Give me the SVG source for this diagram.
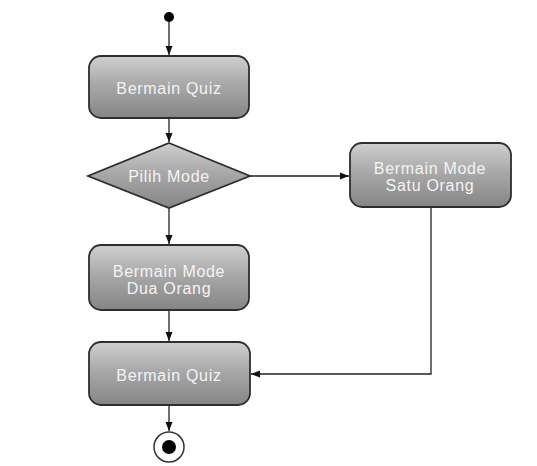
<svg xmlns="http://www.w3.org/2000/svg" width="537" height="466" viewBox="0 0 537 466">
<defs>
<linearGradient id="g" x1="0" y1="0" x2="0" y2="1">
<stop offset="0" stop-color="#cfcfcf"/>
<stop offset="0.45" stop-color="#a9a9a9"/>
<stop offset="1" stop-color="#858585"/>
</linearGradient>
<marker id="arr" markerWidth="10" markerHeight="10" refX="9" refY="5" orient="auto" markerUnits="userSpaceOnUse">
<path d="M0,1.5 L9,5 L0,8.5 Z" fill="#111"/>
</marker>
</defs>
<style>
.n{fill:url(#g);stroke:#2e2e2e;stroke-width:1.8}
.t{font-family:"Liberation Sans",Arial,sans-serif;font-size:16px;letter-spacing:0.7px;fill:#f4f4f4;text-anchor:middle}
.c{fill:none;stroke:#222;stroke-width:1.3}
</style>
<rect width="537" height="466" fill="#ffffff"/>
<g id="connectors">
<path class="c" d="M169,20 L169,55" marker-end="url(#arr)"/>
<path class="c" d="M169,118 L169,142" marker-end="url(#arr)"/>
<path class="c" d="M250,176 L349,176" marker-end="url(#arr)"/>
<path class="c" d="M169,208 L169,244" marker-end="url(#arr)"/>
<path class="c" d="M169,310 L169,341" marker-end="url(#arr)"/>
<path class="c" d="M431,207 L431,374 L251,374" marker-end="url(#arr)"/>
<path class="c" d="M169,405 L169,431" marker-end="url(#arr)"/>
</g>
<g id="start"><circle cx="169" cy="17" r="5" fill="#000"/></g>
<g id="bermain-quiz-1">
<rect class="n" x="89" y="56" width="160" height="62" rx="12"/>
<text class="t" x="169" y="94">Bermain Quiz</text>
</g>
<g id="pilih-mode">
<path class="n" d="M169,143 L250,176 L169,208 L88,176 Z"/>
<text class="t" x="169" y="182">Pilih Mode</text>
</g>
<g id="satu-orang">
<rect class="n" x="350" y="143" width="161" height="64" rx="12"/>
<text class="t" x="430" y="174">Bermain Mode</text>
<text class="t" x="430" y="191">Satu Orang</text>
</g>
<g id="dua-orang">
<rect class="n" x="89" y="245" width="160" height="65" rx="12"/>
<text class="t" x="169" y="277">Bermain Mode</text>
<text class="t" x="169" y="294">Dua Orang</text>
</g>
<g id="bermain-quiz-2">
<rect class="n" x="89" y="342" width="161" height="63" rx="12"/>
<text class="t" x="169" y="381">Bermain Quiz</text>
</g>
<g id="end">
<circle cx="169" cy="447" r="15" fill="#fff" stroke="#333" stroke-width="1.5"/>
<circle cx="169" cy="447" r="7" fill="#000"/>
</g>
</svg>
